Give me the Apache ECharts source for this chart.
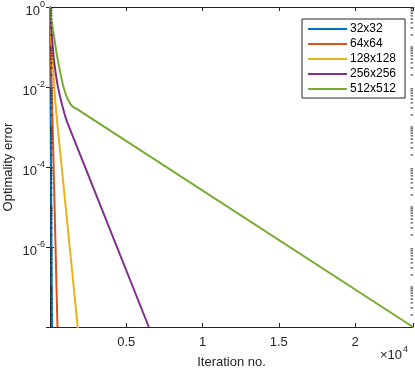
<!DOCTYPE html>
<html>
<head>
<meta charset="utf-8">
<script src="https://cdn.jsdelivr.net/npm/echarts@6/dist/echarts.min.js"></script>
<style>
html,body{margin:0;padding:0;background:#fff;}
#c{width:415px;height:369px;}
</style>
</head>
<body>
<div id="c"></div>
<script>
// ---- data ----
var seriesNames = ['32x32', '64x64', '128x128', '256x256', '512x512'];
var blueX = [0, 130];
var blueY = [1, 1e-8];
var redX = [0, 30, 60, 490];
var redY = [1, 0.25, 6.3e-2, 1e-8];
var yellowX = [0, 60, 120, 200, 300, 400, 1830];
var yellowY = [1, 0.28, 0.1, 3.2e-2, 7.9e-3, 2.5e-3, 9e-9];
var purpleX = [0, 50, 100, 175, 250, 375, 500, 650, 800, 950, 1100, 6480];
var purpleY = [1, 0.47, 0.25, 0.105, 5e-2, 2.2e-2, 1.1e-2, 6e-3, 3.5e-3, 2.15e-3, 1.4e-3, 1e-8];
var greenX = [0, 50, 100, 175, 250, 350, 450, 550, 650, 750, 850, 950, 1050, 1150, 1250, 1375, 1500, 1650, 1800, 23800];
var greenY = [1, 0.63, 0.45, 0.3, 0.2, 0.11, 6.3e-2, 4e-2, 2.5e-2, 1.66e-2, 1.1e-2, 8.3e-3, 6.3e-3, 5.1e-3, 4.3e-3, 3.6e-3, 3.2e-3, 2.95e-3, 2.75e-3, 1e-8];
var xMin = 0, xMax = 23800, xInterval = 5000;
var yMin = 1e-8, yMax = 1;
var xTickLabels = ['', '0.5', '1', '1.5', '2'];
var yLabelExps = [0, -2, -4, -6];
var xExponentText = '4';

var colors = ['#0072BD', '#D95319', '#EDB120', '#7E2F8E', '#77AC30'];
var axisColor = '#262626';
var font = 'Liberation Sans, Arial, Helvetica, sans-serif';

function zip(xs, ys) { return xs.map(function (x, i) { return [x, ys[i]]; }); }
var allX = [blueX, redX, yellowX, purpleX, greenX];
var allY = [blueY, redY, yellowY, purpleY, greenY];

// minor tick values for log axis
var minorVals = [];
for (var e = -8; e < 0; e++) {
  for (var k = 1; k <= 9; k++) {
    if (k === 1 && e % 2 === 0) continue;
    minorVals.push([xMin, k * Math.pow(10, e)]);
  }
}

var lineSeries = seriesNames.map(function (n, i) {
  return {
    name: n, type: 'line', data: zip(allX[i], allY[i]),
    showSymbol: false, symbol: 'none', smooth: false,
    lineStyle: { color: colors[i], width: 2 }, itemStyle: { color: colors[i] },
    xAxisIndex: 0, yAxisIndex: 0, z: 3, animation: false
  };
});

var tickSeries = {
  type: 'custom', silent: true, animation: false, xAxisIndex: 0, yAxisIndex: 0,
  data: minorVals, clip: false, z: 5,
  renderItem: function (params, api) {
    var y = api.value(1);
    var pl = api.coord([xMin, y]);
    var pr = api.coord([xMax, y]);
    var len = 2.5;
    return {
      type: 'group', children: [
        { type: 'line', shape: { x1: pl[0], y1: pl[1], x2: pl[0] + len, y2: pl[1] }, style: { stroke: axisColor, lineWidth: 1 } },
        { type: 'line', shape: { x1: pr[0], y1: pr[1], x2: pr[0] - len, y2: pr[1] }, style: { stroke: axisColor, lineWidth: 1 } }
      ]
    };
  }
};

function yFmt(v) {
  var ex = Math.round(Math.log10(v));
  if (yLabelExps.indexOf(ex) < 0) return '';
  return '{b|10}{s|' + ex + '}';
}

var chart = echarts.init(document.getElementById('c'), null, { renderer: 'canvas' });
chart.setOption({
  backgroundColor: '#fff',
  animation: false,
  textStyle: { fontFamily: font },
  grid: { left: 50, right: 2, top: 7, bottom: 42, containLabel: false, outerBoundsMode: 'none' },
  legend: {
    data: seriesNames, orient: 'vertical', left: 302, top: 19,
    padding: [4, 9, 3, 6], itemGap: 3, itemWidth: 39, itemHeight: 2,
    icon: 'rect', borderColor: axisColor, borderWidth: 1, backgroundColor: '#fff',
    textStyle: { fontSize: 12, color: '#000', fontFamily: font, padding: [0, 0, 0, -2] },
    selectedMode: false
  },
  xAxis: [{
    type: 'value', min: xMin, max: xMax, interval: xInterval,
    name: 'Iteration no.', nameLocation: 'middle', nameGap: 29, nameMoveOverlap: false,
    nameTextStyle: { fontSize: 13, color: axisColor, fontFamily: font },
    axisLine: { show: true, lineStyle: { color: axisColor, width: 1 } },
    axisTick: { inside: true, length: 4, lineStyle: { color: axisColor } },
    axisLabel: { fontSize: 13, color: axisColor, margin: 9, fontFamily: font,
      formatter: function (v) { return xTickLabels[Math.round(v / xInterval)] || ''; } },
    splitLine: { show: false }
  }, {
    type: 'value', position: 'top', min: xMin, max: xMax, interval: xInterval,
    axisLine: { show: true, onZero: false, lineStyle: { color: axisColor, width: 1 } },
    axisTick: { inside: true, length: 4, lineStyle: { color: axisColor } },
    axisLabel: { show: false }, splitLine: { show: false }
  }],
  yAxis: [{
    type: 'log', logBase: 10, min: yMin, max: yMax, interval: 2,
    name: 'Optimality error', nameLocation: 'middle', nameGap: 35, nameMoveOverlap: false,
    nameTextStyle: { fontSize: 13, color: axisColor, fontFamily: font },
    axisLine: { show: true, lineStyle: { color: axisColor, width: 1 } },
    axisTick: { inside: true, length: 4, lineStyle: { color: axisColor } },
    axisLabel: {
      fontSize: 13, color: axisColor, margin: 5, formatter: yFmt, fontFamily: font,
      rich: {
        b: { fontSize: 13, color: axisColor, fontFamily: font, padding: [9, 0, 0, 0] },
        s: { fontSize: 9, color: axisColor, fontFamily: font, padding: [0, 0, 4, 0] }
      }
    },
    splitLine: { show: false }
  }, {
    type: 'log', logBase: 10, min: yMin, max: yMax, interval: 2, position: 'right',
    axisLine: { show: true, lineStyle: { color: axisColor, width: 1 } },
    axisTick: { inside: true, length: 4, lineStyle: { color: axisColor } },
    axisLabel: { show: false }, splitLine: { show: false }
  }],
  graphic: [{
    type: 'text', right: 7, top: 345, silent: true,
    style: {
      text: '{b|\u00d710}{s|' + xExponentText + '}',
      rich: {
        b: { fontSize: 13, fill: axisColor, fontFamily: font, padding: [8, 0, 0, 0] },
        s: { fontSize: 9, fill: axisColor, fontFamily: font, padding: [0, 0, 4, 1] }
      }
    }
  }],
  series: lineSeries.concat([tickSeries])
});
</script>
</body>
</html>
